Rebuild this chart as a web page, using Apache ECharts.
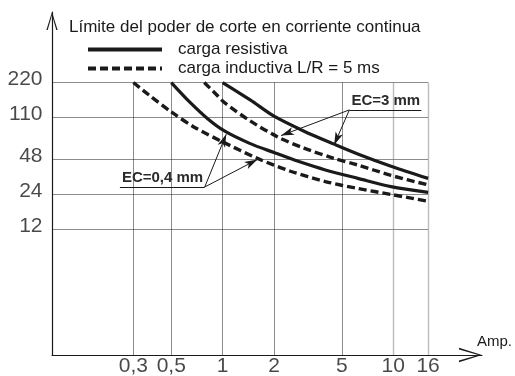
<!DOCTYPE html>
<html>
<head>
<meta charset="utf-8">
<script src="https://cdn.jsdelivr.net/npm/echarts@6/dist/echarts.min.js"></script>
<style>
  html, body { margin: 0; padding: 0; background: #fff; }
  #chart { width: 515px; height: 376px; }
</style>
</head>
<body>
<div id="chart"></div>
<script>
// ejes (escala log-log)
const ampTicks = [0.3, 0.5, 1, 2, 5, 10, 16];
const ampLabels = ['0,3', '0,5', '1', '2', '5', '10', '16'];
const voltTicks = [12, 24, 48, 110, 220];
const voltLabels = ['12', '24', '48', '110', '220'];

// EC = 0,4 mm  [A, V]
const resistiva04 = [[0.5, 220], [0.64, 150], [0.82, 107], [1.03, 84], [1.44, 66], [2, 55], [2.8, 46], [4, 39], [6.2, 33], [9.7, 28], [16, 25]];
const inductiva04 = [[0.3, 220], [0.37, 172], [0.5, 123], [0.69, 90], [1, 68], [1.6, 49], [2.5, 38], [4, 31], [6.2, 27], [9.7, 24], [16, 21]];
// EC = 3 mm
const resistiva3 = [[1, 220], [1.45, 156], [2, 113], [3, 84], [4.5, 65], [6.3, 53], [9.7, 42], [16, 33]];
const inductiva3 = [[0.78, 220], [0.9, 179], [1.03, 147], [1.45, 103], [2.1, 75], [3, 60], [4.5, 49], [6.2, 43], [9.7, 35], [16, 29]];

// anotaciones: origen de las flechas y puntos señalados
const ec3Anchor = [5.53, 128];
const ec3End = 14.6;
const ec3Targets = [[2.2, 77], [4.5, 64]];
const ec04Anchor = [0.785, 27.8];
const ec04Start = 0.25;
const ec04Targets = [[1.05, 79], [1.6, 48]];

const xMin = 0.1, xMax = 33.1, yMin = 1, yMax = 889;
const FONT = 'Liberation Sans, Arial, Helvetica, sans-serif';
const INK = '#1a1a1a';
const chevron = 'path://M5,0 L10,16 L8.8,16 L5,2.6 L1.2,16 L0,16 Z';

const chart = echarts.init(document.getElementById('chart'));

// rejilla: horizontales hasta 16 A, verticales hasta 220 V
const gridData = [];
voltTicks.forEach(function (v) {
  gridData.push({ coords: [[xMin, v], [ampTicks[ampTicks.length - 1], v]] });
});
ampTicks.forEach(function (a) {
  gridData.push({
    coords: [[a, yMin], [a, voltTicks[voltTicks.length - 1]]],
    lineStyle: { color: a >= 10 ? '#7a7a7a' : INK, width: a >= 10 ? 1.4 : 1 }
  });
});

function arrow(from, to) {
  return [{ coord: from }, { coord: to, symbol: 'arrow', symbolSize: [6, 13] }];
}

const curveStyle = { color: INK, width: 3.2 };
const dashStyle = { color: INK, width: 3.4, type: [8, 4] };

const option = {
  animation: false,
  textStyle: { fontFamily: FONT },
  title: {
    text: 'Límite del poder de corte en corriente continua',
    left: 64, top: 14,
    textStyle: { fontSize: 17, fontWeight: 'normal', color: INK, fontFamily: FONT }
  },
  legend: {
    data: ['carga resistiva', 'carga inductiva L/R = 5 ms'],
    orient: 'vertical',
    left: 81, top: 36,
    itemWidth: 74, itemHeight: 12, itemGap: 2,
    selectedMode: false,
    lineStyle: { width: 4 },
    itemStyle: { opacity: 0 },
    textStyle: { fontSize: 17, color: INK, padding: [0, 0, 0, 11], fontFamily: FONT }
  },
  grid: { left: 52, right: 32, top: 12, bottom: 21, containLabel: false },
  xAxis: {
    type: 'log', logBase: 10, min: xMin, max: xMax,
    axisLine: {
      show: true, lineStyle: { color: INK, width: 1.2 },
      symbol: ['none', chevron], symbolSize: [16, 23], symbolOffset: [0, -11.5]
    },
    axisTick: { show: false }, axisLabel: { show: false }, splitLine: { show: false },
    name: 'Amp.', nameLocation: 'end', nameGap: -5,
    nameTextStyle: { fontSize: 15, color: INK, verticalAlign: 'bottom', padding: [0, 0, 6, 0], fontFamily: FONT }
  },
  yAxis: {
    type: 'log', logBase: 10, min: yMin, max: yMax,
    axisLine: {
      show: true, lineStyle: { color: INK, width: 1.2 },
      symbol: ['none', chevron], symbolSize: [13, 18], symbolOffset: [0, -9]
    },
    axisTick: { show: false }, axisLabel: { show: false }, splitLine: { show: false }
  },
  series: [
    {
      type: 'lines', coordinateSystem: 'cartesian2d', silent: true, z: 1,
      lineStyle: { color: INK, width: 1 },
      data: gridData
    },
    {
      // rótulos del eje Y
      type: 'scatter', silent: true, symbolSize: 1,
      itemStyle: { color: 'rgba(0,0,0,0)' },
      data: voltTicks.map(function (v) { return [xMin, v]; }),
      label: {
        show: true, position: 'left', distance: 9, offset: [0, -3],
        fontSize: 21, color: INK, fontFamily: FONT,
        formatter: function (p) { return voltLabels[p.dataIndex]; }
      }
    },
    {
      // rótulos del eje X
      type: 'scatter', silent: true, symbolSize: 1,
      itemStyle: { color: 'rgba(0,0,0,0)' },
      data: ampTicks.map(function (a) { return [a, yMin]; }),
      label: {
        show: true, position: 'bottom', distance: 0,
        fontSize: 21, color: INK, fontFamily: FONT,
        formatter: function (p) { return ampLabels[p.dataIndex]; }
      }
    },
    {
      name: 'carga resistiva', type: 'line', symbol: 'none', z: 3,
      smooth: 0.3,
      lineStyle: curveStyle, itemStyle: { color: INK },
      data: resistiva04,
      markLine: {
        silent: true, symbol: ['none', 'none'],
        lineStyle: { color: INK, width: 1, type: 'solid' },
        label: { show: false },
        emphasis: { disabled: true },
        data: [
          arrow(ec3Anchor, ec3Targets[0]),
          arrow(ec3Anchor, ec3Targets[1]),
          [{
            coord: [ec04Start, ec04Anchor[1]],
            label: {
              show: true, position: 'insideStartTop', distance: 2, formatter: 'EC=0,4 mm',
              fontSize: 15, fontWeight: 'bold', color: '#2a2a2a', fontFamily: FONT
            }
          }, { coord: ec04Anchor }],
          arrow(ec04Anchor, ec04Targets[0]),
          arrow(ec04Anchor, ec04Targets[1]),
          [{
            coord: ec3Anchor,
            label: {
              show: true, position: 'insideStartTop', distance: 2, formatter: 'EC=3 mm',
              fontSize: 15, fontWeight: 'bold', color: '#2a2a2a', fontFamily: FONT
            }
          }, { coord: [ec3End, ec3Anchor[1]] }]
        ]
      }
    },
    {
      name: 'carga inductiva L/R = 5 ms', type: 'line', symbol: 'none', z: 3,
      smooth: 0.3,
      lineStyle: dashStyle, itemStyle: { color: INK },
      data: inductiva04
    },
    {
      name: 'carga resistiva', type: 'line', symbol: 'none', z: 3,
      smooth: 0.3,
      lineStyle: curveStyle, itemStyle: { color: INK },
      data: resistiva3
    },
    {
      name: 'carga inductiva L/R = 5 ms', type: 'line', symbol: 'none', z: 3,
      smooth: 0.3,
      lineStyle: dashStyle, itemStyle: { color: INK },
      data: inductiva3
    }
  ]
};

chart.setOption(option);
</script>
</body>
</html>
